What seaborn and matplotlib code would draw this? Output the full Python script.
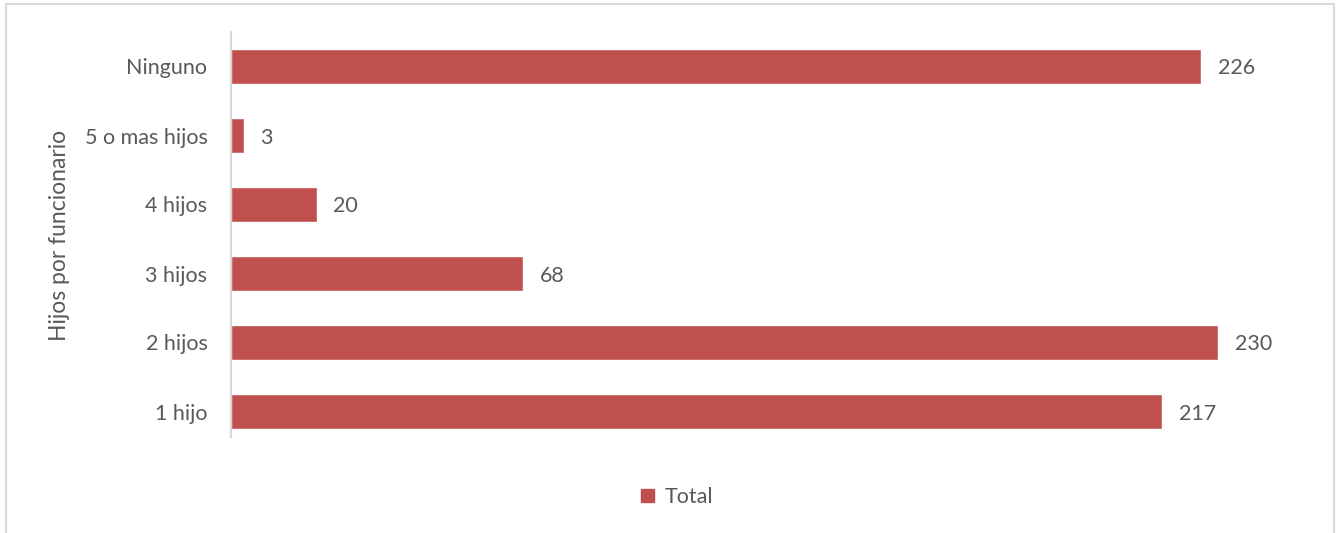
import matplotlib
matplotlib.use("Agg")
import matplotlib.pyplot as plt
import matplotlib.patches as mpatches
import seaborn as sns
import pandas as pd

categories = ["Ninguno", "5 o mas hijos", "4 hijos", "3 hijos", "2 hijos", "1 hijo"]
values = [226, 3, 20, 68, 230, 217]
series_name = "Total"
y_title = "Hijos por funcionario"

BAR = "#C0504D"
TXT = "#595959"
GRID = "#D9D9D9"

sns.set_style("white")
plt.rcParams["font.family"] = ["Lato", "DejaVu Sans"]

W, H = 1336, 533
fig = plt.figure(figsize=(W / 100, H / 100), dpi=100)
ax = fig.add_axes([231 / W, 1 - 446 / H, 1051 / W, (446 - 32) / H])

df = pd.DataFrame({"cat": categories, "val": values})
sns.barplot(data=df, x="val", y="cat", order=categories, color=BAR,
            width=0.5, ax=ax, label=series_name, saturation=1)

ax.set_xlim(0, 1051 / ((1218 - 231) / 230))
ax.set_ylim(len(categories) - 0.5, -0.5)
for s in ["top", "right", "bottom"]:
    ax.spines[s].set_visible(False)
ax.spines["left"].set_color(GRID)
ax.spines["left"].set_linewidth(1.5)
ax.spines["left"].set_bounds(-0.5, len(categories) - 0.5 - 9 / 69)
ax.set_xticks([])
ax.set_xlabel("")
ax.tick_params(axis="y", length=0, pad=17, labelsize=15.5, labelcolor=TXT)

ax.set_ylabel(y_title, fontsize=16.5, color=TXT)
ax.yaxis.set_label_coords((60 - 231) / 1051, (446 - 235) / (446 - 32))
ax.yaxis.label.set_verticalalignment("center")

for c in ax.containers:
    texts = ax.bar_label(c, labels=[str(v) for v in values], padding=12,
                         fontsize=15.5, color=TXT)
    for t in texts:
        t.set_verticalalignment("center_baseline")

handles = [mpatches.Patch(color=BAR, label=series_name)]
if ax.get_legend():
    ax.get_legend().remove()
fig.legend(handles=handles, loc="center", bbox_to_anchor=(677 / W, 1 - 497 / H),
           frameon=False, fontsize=15.5, labelcolor=TXT, handlelength=0.6,
           handleheight=0.6, handletextpad=0.5)

fig.patches.append(mpatches.Rectangle((6 / W, -0.05), (1334 - 6) / W, 1.05 - 4 / H,
                                      transform=fig.transFigure, fill=False,
                                      edgecolor=GRID, linewidth=1.5))

fig.savefig("out.png", dpi=100, facecolor="white")
